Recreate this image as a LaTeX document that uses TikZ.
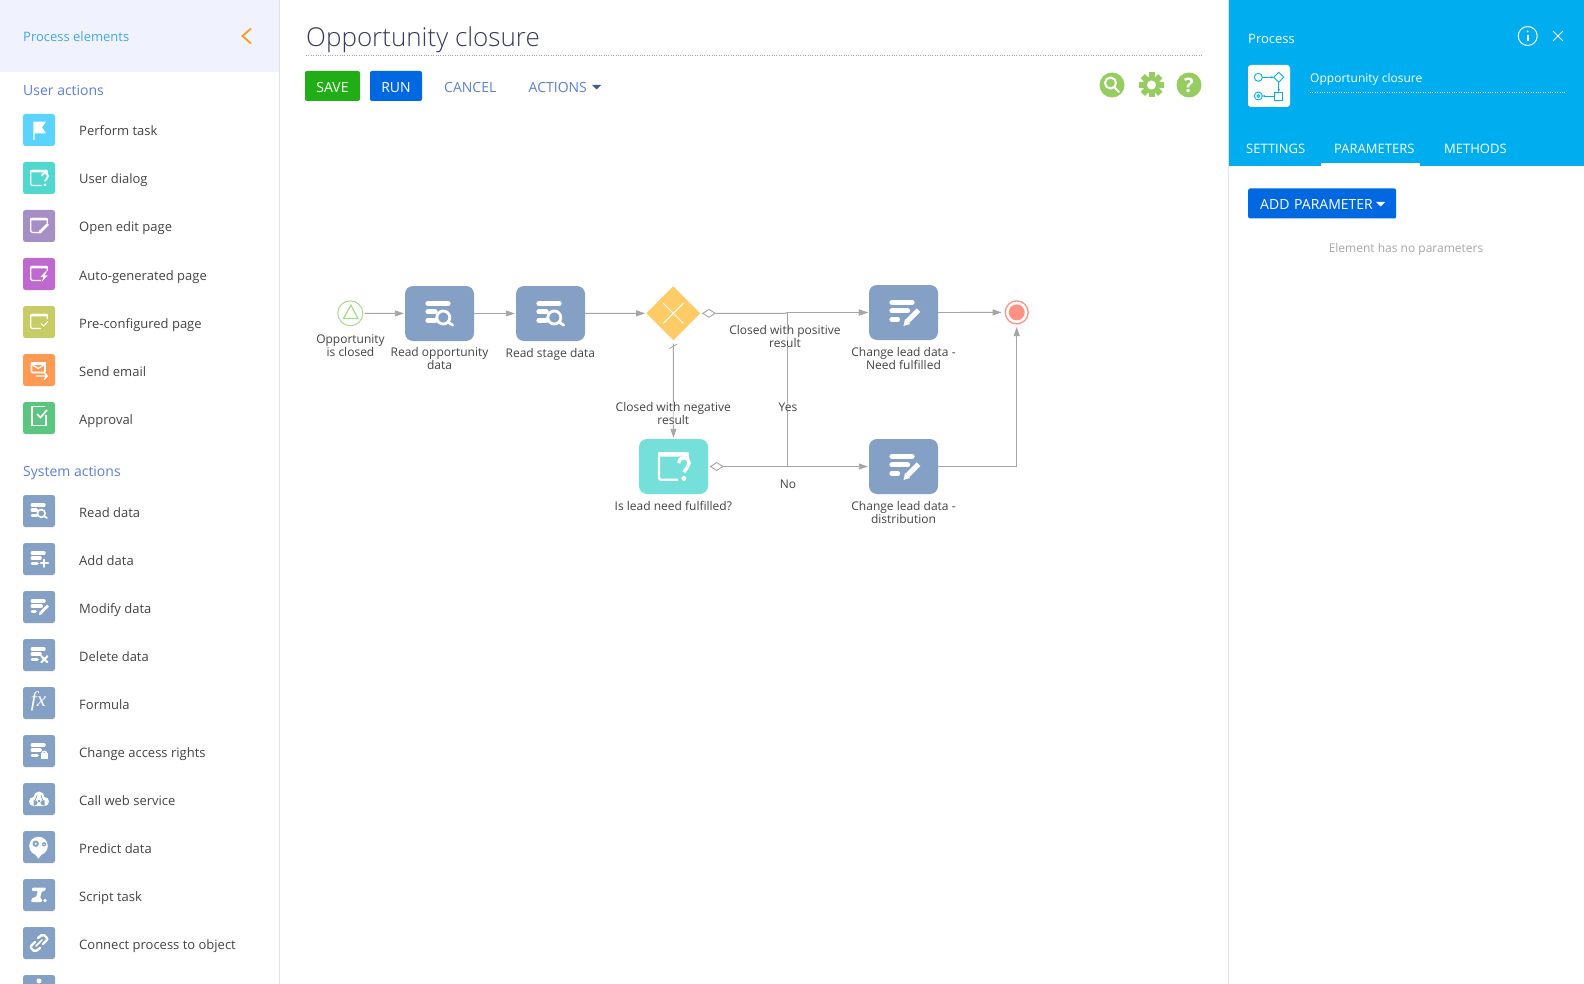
\documentclass[tikz,border=0pt]{standalone}
\usepackage{fontspec}
\setmainfont{Open Sans}
\newfontfamily\lightfont[UprightFont=* Light]{Open Sans}
\newfontfamily\fxfont{Liberation Serif}
\usetikzlibrary{shapes.geometric,positioning,calc,arrows.meta}

\definecolor{flowgray}{HTML}{A6A6A6}
\definecolor{datablue}{HTML}{85A0C5}
\definecolor{dialogteal}{HTML}{75DFD9}
\definecolor{gateyellow}{HTML}{FFCB66}
\definecolor{startgreen}{HTML}{A8DA8C}
\definecolor{endred}{HTML}{FF9285}
\definecolor{headerblue}{HTML}{00AEEF}
\definecolor{buttonblue}{HTML}{0068E0}
\definecolor{savegreen}{HTML}{21AD16}
\definecolor{toolgreen}{HTML}{97CD60}
\definecolor{linkblue}{HTML}{5B7FDC}
\definecolor{textdark}{HTML}{444444}
\definecolor{panelgray}{HTML}{E2E2E2}
\definecolor{sidetop}{HTML}{F0F3FD}
\definecolor{sidetitlecol}{HTML}{45A5EE}
\definecolor{chevroncol}{HTML}{FF9C1A}
\definecolor{sideflag}{HTML}{5AD4FF}
\definecolor{sidedialog}{HTML}{50D8CF}
\definecolor{sideedit}{HTML}{A68FC4}
\definecolor{sideauto}{HTML}{BF68CF}
\definecolor{sidepre}{HTML}{C7CC66}
\definecolor{sidemail}{HTML}{FF9A54}
\definecolor{sideapprove}{HTML}{5CC681}

\tikzset{
    lbl/.style={font=\fontsize{12}{13}\selectfont,text=textdark,align=center,inner sep=0pt,
        fill=white,fill opacity=.55,text opacity=1},
    taskbox/.style={rectangle,rounded corners=8pt,minimum width=69pt,minimum height=55pt,inner sep=0pt,fill=#1},
    flow/.style={draw=flowgray,line width=.9pt,-{Triangle[length=9pt,width=6pt]},shorten >=1pt},
    condflow/.style={flow,{Diamond[open,length=14pt,width=9pt,fill=white]}-{Triangle[length=9pt,width=6pt]},shorten <=1.5pt},
    sideicon/.style={rectangle,rounded corners=2.5pt,minimum size=32pt,inner sep=0pt,fill=#1},
    sideitem/.style={font=\fontsize{13}{15}\selectfont,text=textdark,anchor=base west,inner sep=0pt},
    sidehead/.style={font=\fontsize{14}{16}\selectfont,text=linkblue,anchor=base west,inner sep=0pt},
    btn/.style={rectangle,rounded corners=2pt,minimum height=30pt,inner sep=0pt,text=white,
        text height=13.4pt,text depth=0pt,font=\fontsize{14}{16}\selectfont,fill=#1},
    toolcircle/.style={circle,minimum size=25pt,inner sep=0pt,fill=toolgreen},
    tabtext/.style={font=\fontsize{13}{15}\selectfont,text=white,anchor=base west,inner sep=0pt},
    glyphline/.style={white,line cap=round,line width=#1*5.3pt},
}

% white glyphs, drawn round (0,0) of a shifted scope
\newcommand{\databars}[2]{\draw (-11.5,-10) -- (8.5,-10) (-11.5,-1.7) -- (#1,-1.7) (-11.5,7) -- (#2,7);}
\newcommand{\readglyph}[1]{\begin{scope}[scale=#1,glyphline=#1]
    \databars{-4.5}{-4.5}
    \draw[line width=#1*2.8pt] (3.8,4) circle[radius=6.5] (8.5,8.5) -- (13.2,11.7);
\end{scope}}
\newcommand{\editglyph}[1]{\begin{scope}[scale=#1,glyphline=#1]
    \databars{4}{-6}
    \draw[line width=#1*5pt,line cap=butt] (4,8.7) -- (15,-2.3);
    \fill (1.5,6.5) -- (6.5,11.5) -- (0,13.5) -- cycle;
\end{scope}}
\newcommand{\addglyph}[1]{\begin{scope}[scale=#1,glyphline=#1]
    \databars{2}{-3}
    \draw[line width=#1*3.6pt] (9,1) -- (9,13) (3,7) -- (15,7);
\end{scope}}
\newcommand{\deleteglyph}[1]{\begin{scope}[scale=#1,glyphline=#1]
    \databars{2}{-3}
    \draw[line width=#1*3.6pt] (4,2) -- (14,12) (4,12) -- (14,2);
\end{scope}}
\newcommand{\lockglyph}[1]{\begin{scope}[scale=#1,glyphline=#1]
    \databars{2}{-3}
    \fill (3,4) rectangle (15,13);
    \draw[line width=#1*2.4pt] (5.5,4) arc[start angle=180,end angle=360,radius=3.5];
\end{scope}}
\newcommand{\pageframe}{\fill[white,rounded corners=1pt] (-8.8,-8.2) rectangle (8.8,-5.6);
    \draw[white,line width=1.2pt,rounded corners=1.5pt] (2,6.5) -- (-8.3,6.5) -- (-8.3,-7.5) -- (8.3,-7.5) -- (8.3,-3);}
\newcommand{\dialogglyph}[1]{\begin{scope}[scale=#1/.57]
    \fill[white,rounded corners=1pt] (-8.8,-8.2) rectangle (8.8,-5.6);
    \draw[white,line width=#1*2.2pt,rounded corners=2pt] (2.5,7.5) -- (-8.3,7.5) -- (-8.3,-7.5) -- (8.3,-7.5) -- (8.3,-4.5);
    \draw[white,line width=#1*3.4pt] (2.9,-2) arc[start angle=180,end angle=405,radius=3] -- (5.9,3.2);
    \fill[white] (5.9,6.8) circle[radius=1.4];
\end{scope}}
\newcommand{\openglyph}{\pageframe
    \draw[white,line width=2.6pt] (1.5,5.5) -- (9,-2);
    \fill[white] (.2,4.2) -- (2.8,6.8) -- (-.7,7.5) -- cycle;}
\newcommand{\autoglyph}{\pageframe
    \fill[white] (6.5,-2.5) -- (1.5,3) -- (4.5,3) -- (2.5,8) -- (8.5,1.5) -- (5.5,1.5) -- (8,-2.5) -- cycle;}
\newcommand{\preglyph}{\pageframe
    \draw[white,line width=1pt] (2,1.5) -- (4.5,4) -- (9,-.5);}
\newcommand{\flagglyph}{\fill[white] (-5.6,-8.3) -- (7,-8.3) -- (3,-2.7) -- (7,3.3) -- (-4.5,3.3) -- (-4.5,10) -- (-5.6,10) -- cycle;}
\newcommand{\mailglyph}{\draw[white,line width=1.6pt,rounded corners=1pt] (-7.5,-7) rectangle (6,2.5);
    \fill[white] (-8,-8) rectangle (6.5,-5.5);
    \draw[white,line width=1.2pt] (-7,-5.5) -- (-.8,-1.5) -- (5.5,-5.5);
    \draw[white,line width=1.3pt] (-3,6) -- (8.5,6) (5,2.5) -- (8.5,6) -- (5,9.5);}
\newcommand{\approveglyph}{\draw[white,line width=1.7pt] (6,-11.5) -- (-7,-11.5) -- (-7,7.5) -- (7,7.5) -- (7,-3);
    \draw[white,line width=1.7pt] (-2,-4) -- (1.5,-.5) -- (8,-8);}
\newcommand{\fxglyph}{\node[text=white,inner sep=0pt,font=\fxfont\itshape\fontsize{21}{21}\selectfont] (fxmark) at (-.5,-1.5) {fx};}
\newcommand{\cloudglyph}{\fill[white] (-5.5,2.5) circle[radius=4.5] (0,-2) circle[radius=5.5] (5.5,2.5) circle[radius=4.5] (-5.5,1) rectangle (5.5,7);
    \draw[datablue,line width=.8pt] (-2,-3.5) -- (-3.5,.5) -- (-2,4.5) (2,-3.5) -- (3.5,.5) -- (2,4.5);}
\newcommand{\predictglyph}{\fill[white] (-.5,-1) circle[radius=9.3] (-6,3) -- (5,3) -- (3,7) -- (-.7,11.7) -- (-4,7) -- cycle;
    \fill[datablue] (-3.3,-3.3) circle[radius=3.2] (5,-2.7) circle[radius=2.2];
    \fill[white] (-3.3,-3.3) circle[radius=1.2] (5,-2.7) circle[radius=.8];}
\newcommand{\scriptglyph}{\fill[white,rounded corners=1pt] (-7,-7.5) -- (7,-7.5) -- (6,-4) -- (3,-4) -- (1,3) -- (3,4) -- (3,7) -- (-8,7) -- (-7,3) -- (-3,2) -- (-1,-4) -- (-7,-4) -- cycle;
    \fill[white] (6,5.5) circle[radius=1.8];}
\newcommand{\linkglyph}{\draw[white,line width=2.4pt,line cap=round,rounded corners=2pt] (-1,-5) -- (4,-9) -- (9,-4) -- (4,1)
    (1,5) -- (-4,9) -- (-9,4) -- (-4,-1);
    \draw[white,line width=1.6pt,line cap=round] (-3,3) -- (3,-3);}

\begin{document}
\begin{tikzpicture}[x=1pt,y=-1pt]
    \useasboundingbox (0,0) rectangle (1584,984);
    \fill[white] (0,0) rectangle (1584,984);

    % Left panel
    \fill[sidetop] (0,0) rectangle (279,72);
    \draw[panelgray] (279.5,0) -- (279.5,984);
    \node[sideitem,text=sidetitlecol] (sidetitle) at (23,41.7) {Process elements};
    \draw[chevroncol,line width=1.8pt] (251,28.5) -- (242.5,36) -- (251,43.5);
    \node[sidehead] (useractions) at (23,96) {User actions};
    \node[sidehead] (sysactions) at (23,476) {System actions};
    \foreach \rowy/\rowcol/\rowtext/\rowglyph [count=\n] in {
        130/sideflag/Perform task/\flagglyph,
        178/sidedialog/User dialog/\dialogglyph{.57},
        226/sideedit/Open edit page/\openglyph,
        274/sideauto/Auto-generated page/\autoglyph,
        322/sidepre/Pre-configured page/\preglyph,
        370/sidemail/Send email/\mailglyph,
        418/sideapprove/Approval/\approveglyph,
        511/datablue/Read data/\readglyph{.6},
        559/datablue/Add data/\addglyph{.6},
        607/datablue/Modify data/\editglyph{.6},
        655/datablue/Delete data/\deleteglyph{.6},
        703/datablue/Formula/\fxglyph,
        751/datablue/Change access rights/\lockglyph{.6},
        799/datablue/Call web service/\cloudglyph,
        847/datablue/Predict data/\predictglyph,
        895/datablue/Script task/\scriptglyph,
        943/datablue/Connect process to object/\linkglyph}{
        \node[sideicon=\rowcol] (icon\n) at (39,\rowy) {};
        \node[sideitem] (item\n) at (79,\rowy+6) {\rowtext};
        \begin{scope}[shift={(icon\n.center)}]
            \rowglyph
        \end{scope}
    }
    \node[sideicon=datablue] (iconlast) at (39,991) {};
    \fill[white] (39,981) circle[radius=2.5];

    % Title and toolbar
    \node[anchor=base west,inner sep=0pt,text=textdark!85!blue,font=\lightfont\fontsize{26}{30}\selectfont] (title) at (306,46.7) {Opportunity closure};
    \draw[flowgray,dotted] (306,55.5) -- (1203,55.5);
    \node[btn=savegreen,minimum width=55pt] (save) at (332.5,86) {SAVE};
    \node[btn=buttonblue,minimum width=52pt] (run) at (396,86) {RUN};
    \node[anchor=base west,inner sep=0pt,text=linkblue,font=\fontsize{14}{16}\selectfont] (cancel) at (444,92.7) {CANCEL};
    \node[anchor=base west,inner sep=0pt,text=linkblue,font=\fontsize{14}{16}\selectfont] (actions) at (528.5,92.7) {ACTIONS};
    \fill[linkblue!70!black] (592,85) -- (601,85) -- (596.5,89.5) -- cycle;

    % Green tools
    \node[toolcircle] (search) at (1112,85) {};
    \draw[white,line width=2pt,line cap=round] (1110.5,83) circle[radius=5.5] (1114.5,87.5) -- (1119,92);
    \foreach \a in {0,45,90,135}{
        \fill[toolgreen,rotate around={\a:(1151.5,85)}] (1148.5,72.5) rectangle (1154.5,97.5);
    }
    \node[circle,minimum size=17pt,inner sep=0pt,fill=toolgreen] (gear) at (1151.5,85) {};
    \fill[white] (gear) circle[radius=4.5];
    \node[toolcircle,text=white,font=\bfseries\fontsize{20}{20}\selectfont] (helptool) at (1189,85) {?};

    % Right panel
    \fill[headerblue] (1228.5,0) rectangle (1584,166);
    \draw[panelgray] (1228.5,0) -- (1228.5,984);
    \node[tabtext] (panelname) at (1248,43.3) {Process};
    \draw[white,line width=1pt] (1527.7,36) circle[radius=9.5];
    \draw[white,line width=1.6pt] (1527.7,35) -- (1527.7,41);
    \fill[white] (1527.7,31.5) circle[radius=1];
    \draw[white,line width=1pt] (1553,31) -- (1563,41) (1553,41) -- (1563,31);
    \node[rectangle,rounded corners=3pt,minimum size=42pt,inner sep=0pt,fill=white] (procicon) at (1269,86) {};
    \begin{scope}[shift={(procicon.center)},draw=headerblue,line width=.9pt]
        \draw (-10.7,-8.7) circle[radius=4];
        \draw (9.7,-13.7) -- (14.7,-8.7) -- (9.7,-3.7) -- (4.7,-8.7) -- cycle;
        \draw (5.7,6) rectangle (13.7,14);
        \draw (-10.7,10) circle[radius=4] (-10.7,10) circle[radius=1.4];
        \draw[-{Stealth[length=3pt]}] (-6.7,-8.7) -- (4.7,-8.7);
        \draw[-{Stealth[length=3pt]}] (9.7,-3.7) -- (9.7,6);
        \draw[-{Stealth[length=3pt]}] (5.7,10) -- (-6.7,10);
    \end{scope}
    \node[tabtext,font=\fontsize{12}{15}\selectfont] (procname) at (1310,82.3) {Opportunity closure};
    \draw[white,dotted] (1310,92.5) -- (1565,92.5);
    \node[tabtext] (tabsettings) at (1246,154) {SETTINGS};
    \node[tabtext] (tabparams) at (1334,154) {PARAMETERS};
    \node[tabtext] (tabmethods) at (1444,154) {METHODS};
    \fill[white] (1321,163) rectangle (1420,166);
    \node[btn=buttonblue,minimum width=148pt,anchor=west,text width=136pt,align=left,text height=11.4pt] (addparam) at (1248,203.5) {\hspace*{6pt}ADD PARAMETER};
    \fill[white] (1376,202) -- (1385,202) -- (1380.5,206.5) -- cycle;
    \node[lbl,fill=none,text=flowgray] (noparams) at (1406,249) {Element has no parameters};

    % Process elements
    \node[circle,draw=startgreen,line width=1pt,minimum size=25pt,inner sep=0pt,fill=white] (start) at (350.3,313.3) {};
    \draw[startgreen,line width=1.2pt] (350.9,305) -- (358,318.5) -- (343.5,318.5) -- cycle;
    \node[taskbox=datablue] (readopp) at (439.5,313.5) {};
    \node[taskbox=datablue] (readstage) at (550.5,313.5) {};
    \node[diamond,aspect=1,minimum size=54pt,inner sep=0pt,fill=gateyellow] (gate) at (673.3,313.3) {};
    \draw[white,line width=1pt] ($(gate)+(-10,-10)$) -- ($(gate)+(10,10)$) ($(gate)+(-10,10)$) -- ($(gate)+(10,-10)$);
    \node[taskbox=dialogteal] (leadquest) at (673.5,466.5) {};
    \node[taskbox=datablue] (changeneed) at (903.5,312.5) {};
    \node[taskbox=datablue] (changedist) at (903.5,466.5) {};
    \node[circle,draw=endred,line width=1.3pt,minimum size=23pt,inner sep=0pt,fill=white] (finish) at (1016.7,312.4) {};
    \fill[endred] (finish) circle[radius=8];

    \foreach \nm/\gl in {readopp/\readglyph{1},readstage/\readglyph{1},leadquest/\dialogglyph{1},changeneed/\editglyph{1},changedist/\editglyph{1}}{
        \begin{scope}[shift={(\nm.center)}]
            \gl
        \end{scope}
    }

    % Connectors
    \coordinate (topbend) at (785,313.3);
    \coordinate (yesbend) at (787.3,466.5);
    \coordinate (yestop) at (787.3,312.5);
    \draw[flow,shorten <=1.5pt] (start) -- (readopp);
    \draw[flow] (readopp) -- (readstage);
    \draw[flow] (readstage) -- (gate);
    \draw[condflow] (gate.east) -- (topbend) -- (yestop) -- (changeneed);
    \draw[flow,shorten <=3pt] (gate.south) -- (leadquest);
    \draw[flowgray,line width=.8pt] ($(gate.south)+(-4,8)$) -- ($(gate.south)+(4,3.5)$);
    \draw[flow,shorten >=3pt] (changeneed) -- (finish);
    \draw[condflow] (leadquest.east) -- (changedist.west);
    \draw[flow] (yesbend) -- (yestop) -- (changeneed);
    \draw[flow,shorten >=2.5pt] (changedist) -| (finish);

    % Labels
    \node[lbl] (startlbl) at (350.5,345.5) {Opportunity\\is closed};
    \node[lbl] (readopplbl) at (439.5,358.5) {Read opportunity\\data};
    \node[lbl] (readstagelbl) at (550.3,354.2) {Read stage data};
    \node[lbl] (neglbl) at (673.3,413.5) {Closed with negative\\result};
    \node[lbl] (poslbl) at (785,336) {Closed with positive\\result};
    \node[lbl] (yeslbl) at (788,407) {Yes};
    \node[lbl] (nolbl) at (788,484.3) {No};
    \node[lbl] (questlbl) at (673.3,505.7) {Is lead need fulfilled?};
    \node[lbl] (needlbl) at (903.5,358) {Change lead data -\\Need fulfilled};
    \node[lbl] (distlbl) at (903.5,512) {Change lead data -\\distribution};
\end{tikzpicture}
\end{document}
